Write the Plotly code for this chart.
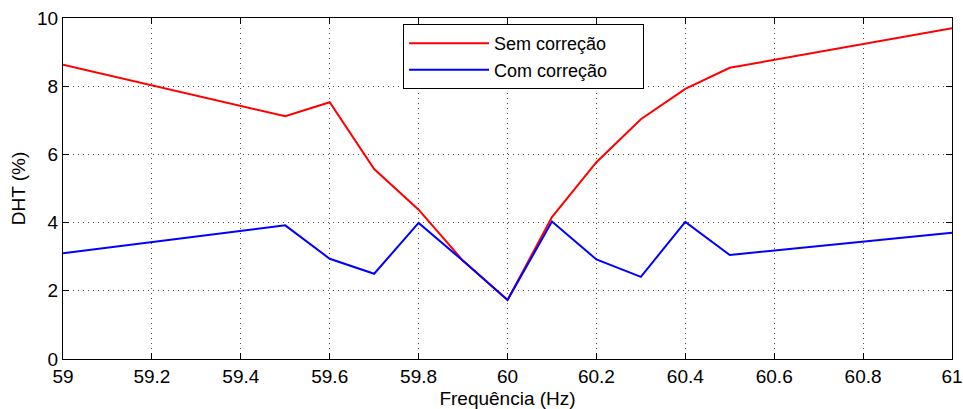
import plotly.graph_objects as go

freq = [59.0, 59.5, 59.6, 59.7, 59.8, 59.9, 60.0, 60.1, 60.2, 60.3, 60.4, 60.5, 61.0]
sem_correcao = [8.63, 7.12, 7.53, 5.57, 4.38, 2.88, 1.73, 4.16, 5.77, 7.03, 7.92, 8.54, 9.70]
com_correcao = [3.10, 3.92, 2.94, 2.50, 3.99, 2.88, 1.73, 4.03, 2.92, 2.41, 4.02, 3.05, 3.70]
x_ticks = [59, 59.2, 59.4, 59.6, 59.8, 60, 60.2, 60.4, 60.6, 60.8, 61]
x_tick_labels = ["59", "59.2", "59.4", "59.6", "59.8", "60", "60.2", "60.4", "60.6", "60.8", "61"]
y_ticks = [0, 2, 4, 6, 8, 10]
series_names = ["Sem correção", "Com correção"]

FONT = "Liberation Sans, Arial, sans-serif"
PAD = "\u00a0" * 6

fig = go.Figure()
fig.add_trace(go.Scatter(x=freq, y=sem_correcao, mode="lines", name=series_names[0] + PAD,
                         line=dict(color="#ff0000", width=2)))
fig.add_trace(go.Scatter(x=freq, y=com_correcao, mode="lines", name=series_names[1] + PAD,
                         line=dict(color="#0000ff", width=2)))

axis_common = dict(
    showline=True, linecolor="black", linewidth=1, mirror="ticks",
    ticks="inside", ticklen=6, tickcolor="black", tickwidth=1,
    showgrid=True, gridcolor="rgba(0,0,0,0.7)", griddash="1px,4px", gridwidth=1,
    zeroline=False, automargin=False,
    tickfont=dict(family=FONT, size=19, color="black"),
)

fig.update_xaxes(range=[59, 61], tickvals=x_ticks, ticktext=x_tick_labels,
                 title=dict(text="Frequência (Hz)", font=dict(family=FONT, size=19, color="black"), standoff=12),
                 **axis_common)
fig.update_yaxes(range=[0, 10], tickvals=y_ticks,
                 title=dict(text="DHT (%)", font=dict(family=FONT, size=19, color="black"), standoff=6),
                 **axis_common)

fig.update_layout(
    width=963, height=409,
    margin=dict(l=63, r=11, t=18, b=50),
    plot_bgcolor="white", paper_bgcolor="white",
    font=dict(family=FONT, color="black"),
    legend=dict(x=0.3825, y=0.982, xanchor="left", yanchor="top",
                bgcolor="white", bordercolor="black", borderwidth=1,
                font=dict(family=FONT, size=18, color="black"),
                itemwidth=80, tracegroupgap=0),
)

fig.write_html("out.html")
